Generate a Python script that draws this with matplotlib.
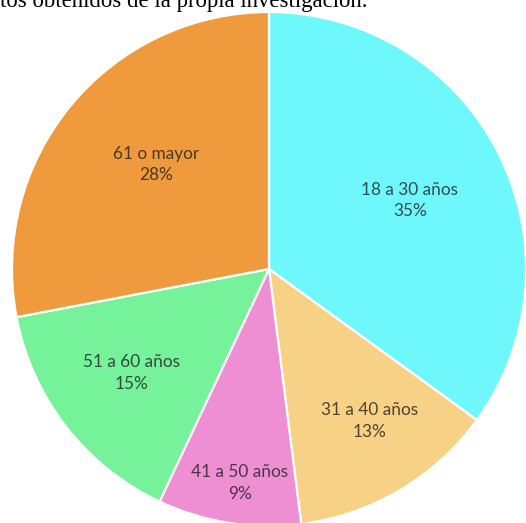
import numpy as np
import matplotlib
matplotlib.use("Agg")
import matplotlib.pyplot as plt

# Data (clockwise from the top)
categories = ["18 a 30 años", "31 a 40 años", "41 a 50 años", "51 a 60 años", "61 o mayor"]
shares = [35, 13, 9, 15, 28]
colors = ["#6ff8fc", "#f7d286", "#ee8ed3", "#76f29b", "#ef9a3c"]
# label placement: fraction of the radius and angular nudge (degrees)
label_radius = [0.61, 0.71, 0.84, 0.67, 0.60]
label_shift = [-1.0, 3.0, 1.2, -0.7, -3.2]
header = "tos obtenidos de la propia investigación."

W, H = 526, 523
cx, cy, R = 269, 269, 257

fig = plt.figure(figsize=(W / 100, H / 100), dpi=100)
ax = fig.add_axes([0, 0, 1, 1])

wedges, _ = ax.pie(shares, colors=colors, startangle=90, counterclock=False,
                   radius=1, wedgeprops=dict(edgecolor="white", linewidth=1.6))

for w, cat, s, rf, sh in zip(wedges, categories, shares, label_radius, label_shift):
    mid = np.deg2rad((w.theta1 + w.theta2) / 2 + sh)
    ax.text(rf * np.cos(mid), rf * np.sin(mid), f"{cat}\n{s}%",
            ha="center", va="center", fontsize=12.4, family="Lato",
            color="#1e1e1e", alpha=0.78, linespacing=1.42)

ax.set_xlim(-cx / R, (W - cx) / R)
ax.set_ylim(-(H - cy) / R, cy / R)
ax.set_aspect("auto")
ax.axis("off")

fig.text(0.0, 1 - 7 / H, header, ha="left", va="baseline",
         family="Liberation Serif", fontsize=16.4, color="black")

fig.savefig("out.png", dpi=100)
